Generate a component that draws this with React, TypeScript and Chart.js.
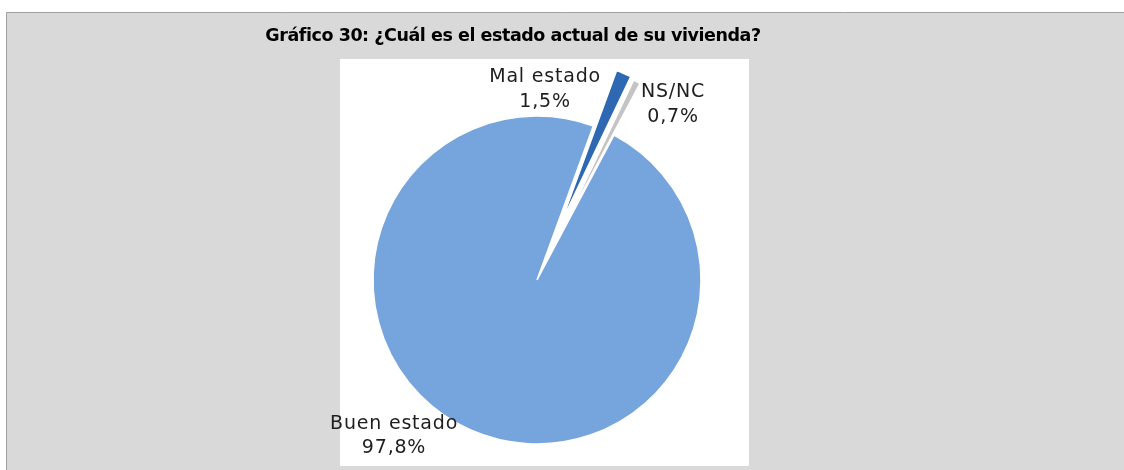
import React, { useEffect, useRef } from "react";
import { Chart, registerables } from "chart.js";

Chart.register(...registerables);

const categories = ["Buen estado", "Mal estado", "NS/NC"];
const percentages = [97.8, 1.5, 0.7];
const percentLabels = ["97,8%", "1,5%", "0,7%"];
const titleText = "Gráfico 30: ¿Cuál es el estado actual de su vivienda?";

const sliceColors = ["#76A4DC", "#2E67B2", "#C4C4C4"];
// explosion distance of each slice, px
const sliceExplode = [0, 60, 58];
// label placement: [angle in degrees clockwise from top, distance from pie centre]
const labelPolar = [
  [222.9, 210],
  [2.4, 193],
  [37.4, 224],
];

const W = 1124;
const H = 470;

const framePlugin = {
  id: "framePlugin",
  beforeDraw(chart: any) {
    const ctx = chart.ctx as CanvasRenderingContext2D;
    ctx.save();
    ctx.fillStyle = "#FFFFFF";
    ctx.fillRect(0, 0, W, H);
    ctx.fillStyle = "#D9D9D9";
    ctx.fillRect(6, 12, W - 6, H - 12);
    ctx.strokeStyle = "#A0A0A0";
    ctx.lineWidth = 1;
    ctx.beginPath();
    ctx.moveTo(6.5, H);
    ctx.lineTo(6.5, 12.5);
    ctx.lineTo(W, 12.5);
    ctx.stroke();
    ctx.fillStyle = "#FFFFFF";
    ctx.fillRect(340, 59, 409, 407);
    ctx.fillStyle = "#000000";
    ctx.font = "bold 17.5px 'DejaVu Sans'";
    (ctx as any).letterSpacing = "-0.45px";
    ctx.textAlign = "center";
    ctx.textBaseline = "alphabetic";
    ctx.fillText(titleText, 513, 41);
    ctx.restore();
  },
};

const explodePlugin = {
  id: "explodePlugin",
  beforeDatasetDraw(chart: any, args: any) {
    const ctx = chart.ctx as CanvasRenderingContext2D;
    const meta = args.meta;
    meta.data.forEach((arc: any, i: number) => {
      const mid = (arc.startAngle + arc.endAngle) / 2;
      const d = sliceExplode[i] || 0;
      ctx.save();
      ctx.translate(Math.cos(mid) * d, Math.sin(mid) * d);
      arc.draw(ctx, chart.chartArea);
      ctx.restore();
    });
    return false;
  },
};

const labelPlugin = {
  id: "labelPlugin",
  afterDatasetsDraw(chart: any) {
    const ctx = chart.ctx as CanvasRenderingContext2D;
    const meta = chart.getDatasetMeta(0);
    ctx.save();
    ctx.fillStyle = "#1E1E1E";
    ctx.font = "19px 'DejaVu Sans'";
    (ctx as any).letterSpacing = "0.8px";
    ctx.textAlign = "center";
    ctx.textBaseline = "alphabetic";
    meta.data.forEach((arc: any, i: number) => {
      const [deg, dist] = labelPolar[i];
      const a = (deg * Math.PI) / 180;
      const x = arc.x + Math.sin(a) * dist;
      const y = arc.y - Math.cos(a) * dist;
      ctx.fillText(categories[i], x, y - 5);
      ctx.fillText(percentLabels[i], x, y + 19.5);
    });
    ctx.restore();
  },
};

export default function App() {
  const ref = useRef<HTMLCanvasElement | null>(null);

  useEffect(() => {
    document.body.style.margin = "0";
    if (!ref.current) return;
    const chart = new Chart(ref.current, {
      type: "pie",
      data: {
        labels: categories,
        datasets: [
          {
            data: percentages,
            backgroundColor: sliceColors,
            borderColor: "#FFFFFF",
            borderWidth: 1.5,
            clip: false,
          } as any,
        ],
      },
      options: {
        responsive: false,
        animation: false,
        rotation: 28,
        radius: 164,
        layout: { padding: { left: 0, right: 50, top: 90, bottom: 0 } },
        plugins: {
          legend: { display: false },
          tooltip: { enabled: false },
          title: { display: false },
        },
      } as any,
      plugins: [framePlugin, explodePlugin, labelPlugin],
    });
    return () => chart.destroy();
  }, []);

  return (
    <div style={{ position: "fixed", left: 0, top: 0, width: W, height: H }}>
      <canvas ref={ref} width={W} height={H} style={{ width: W, height: H, display: "block" }} />
    </div>
  );
}
